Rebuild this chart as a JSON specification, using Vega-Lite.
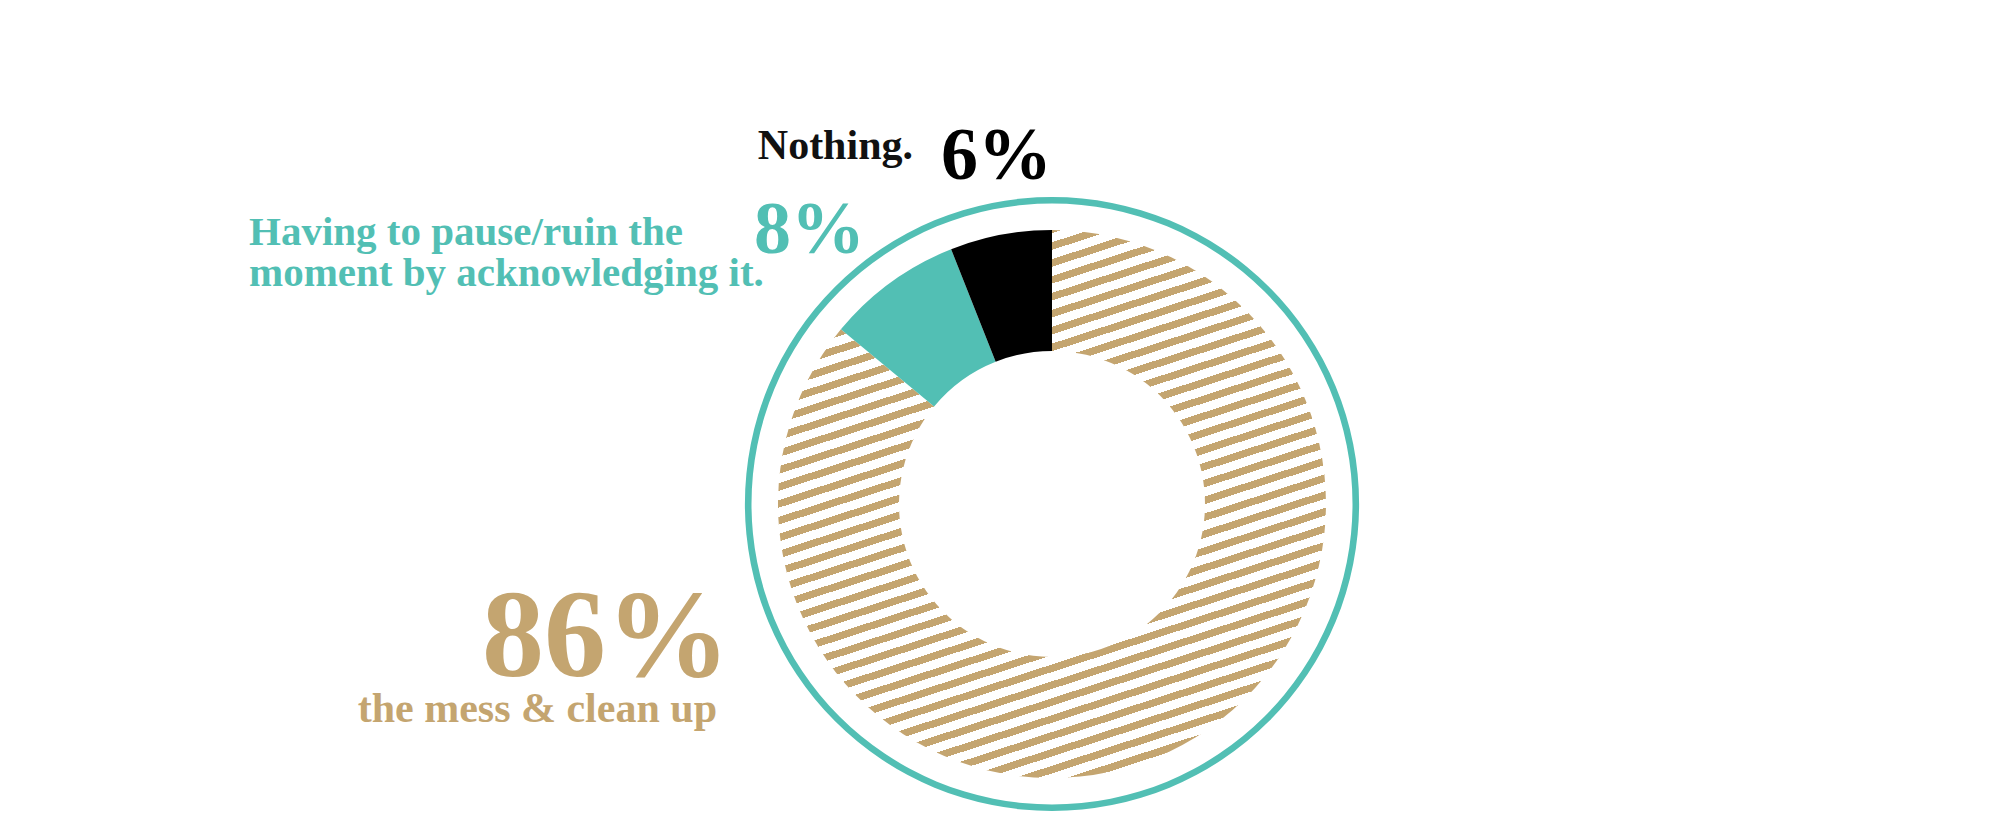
{
  "$schema": "https://vega.github.io/schema/vega-lite/v6.json",
  "autosize": {"type": "none"},
  "padding": {"left": 104, "top": 185, "right": 0, "bottom": 0},
  "width": 1896,
  "height": 638,
  "background": "#ffffff",
  "config": {"view": {"stroke": null}},
  "data": {
    "values": [
      {"label": "the mess & clean up", "value": 86, "pct": "86%"},
      {"label": "Having to pause/ruin the\nmoment by acknowledging it.", "value": 8, "pct": "8%"},
      {"label": "Nothing.", "value": 6, "pct": "6%"}
    ]
  },
  "layer": [
    {
      "data": {"values": [{"part": "border"}]},
      "mark": {"type": "arc", "radius": 307, "radius2": 300.5, "fill": "#52bfb4"},
      "encoding": {}
    },
    {
      "mark": {"type": "arc", "radius": 274, "radius2": 153},
      "encoding": {
        "theta": {"field": "value", "type": "quantitative", "stack": true},
        "order": {"field": "value", "type": "quantitative", "sort": "descending"},
        "fill": {
          "condition": {
            "test": "datum.value == 86",
            "value": {
              "gradient": "linear",
              "x1": 0.305, "y1": -0.099, "x2": 0.695, "y2": 1.099,
              "stops": [
                {"offset": 0, "color": "#c4a570"}, {"offset": 0.0105, "color": "#c4a570"}, {"offset": 0.0105, "color": "#ffffff"}, {"offset": 0.0233, "color": "#ffffff"},
                {"offset": 0.0233, "color": "#c4a570"}, {"offset": 0.0338, "color": "#c4a570"}, {"offset": 0.0338, "color": "#ffffff"}, {"offset": 0.0465, "color": "#ffffff"},
                {"offset": 0.0465, "color": "#c4a570"}, {"offset": 0.0570, "color": "#c4a570"}, {"offset": 0.0570, "color": "#ffffff"}, {"offset": 0.0698, "color": "#ffffff"},
                {"offset": 0.0698, "color": "#c4a570"}, {"offset": 0.0803, "color": "#c4a570"}, {"offset": 0.0803, "color": "#ffffff"}, {"offset": 0.0930, "color": "#ffffff"},
                {"offset": 0.0930, "color": "#c4a570"}, {"offset": 0.1035, "color": "#c4a570"}, {"offset": 0.1035, "color": "#ffffff"}, {"offset": 0.1163, "color": "#ffffff"},
                {"offset": 0.1163, "color": "#c4a570"}, {"offset": 0.1268, "color": "#c4a570"}, {"offset": 0.1268, "color": "#ffffff"}, {"offset": 0.1395, "color": "#ffffff"},
                {"offset": 0.1395, "color": "#c4a570"}, {"offset": 0.1500, "color": "#c4a570"}, {"offset": 0.1500, "color": "#ffffff"}, {"offset": 0.1628, "color": "#ffffff"},
                {"offset": 0.1628, "color": "#c4a570"}, {"offset": 0.1733, "color": "#c4a570"}, {"offset": 0.1733, "color": "#ffffff"}, {"offset": 0.1860, "color": "#ffffff"},
                {"offset": 0.1860, "color": "#c4a570"}, {"offset": 0.1965, "color": "#c4a570"}, {"offset": 0.1965, "color": "#ffffff"}, {"offset": 0.2093, "color": "#ffffff"},
                {"offset": 0.2093, "color": "#c4a570"}, {"offset": 0.2198, "color": "#c4a570"}, {"offset": 0.2198, "color": "#ffffff"}, {"offset": 0.2326, "color": "#ffffff"},
                {"offset": 0.2326, "color": "#c4a570"}, {"offset": 0.2431, "color": "#c4a570"}, {"offset": 0.2431, "color": "#ffffff"}, {"offset": 0.2558, "color": "#ffffff"},
                {"offset": 0.2558, "color": "#c4a570"}, {"offset": 0.2663, "color": "#c4a570"}, {"offset": 0.2663, "color": "#ffffff"}, {"offset": 0.2791, "color": "#ffffff"},
                {"offset": 0.2791, "color": "#c4a570"}, {"offset": 0.2896, "color": "#c4a570"}, {"offset": 0.2896, "color": "#ffffff"}, {"offset": 0.3023, "color": "#ffffff"},
                {"offset": 0.3023, "color": "#c4a570"}, {"offset": 0.3128, "color": "#c4a570"}, {"offset": 0.3128, "color": "#ffffff"}, {"offset": 0.3256, "color": "#ffffff"},
                {"offset": 0.3256, "color": "#c4a570"}, {"offset": 0.3361, "color": "#c4a570"}, {"offset": 0.3361, "color": "#ffffff"}, {"offset": 0.3488, "color": "#ffffff"},
                {"offset": 0.3488, "color": "#c4a570"}, {"offset": 0.3593, "color": "#c4a570"}, {"offset": 0.3593, "color": "#ffffff"}, {"offset": 0.3721, "color": "#ffffff"},
                {"offset": 0.3721, "color": "#c4a570"}, {"offset": 0.3826, "color": "#c4a570"}, {"offset": 0.3826, "color": "#ffffff"}, {"offset": 0.3953, "color": "#ffffff"},
                {"offset": 0.3953, "color": "#c4a570"}, {"offset": 0.4058, "color": "#c4a570"}, {"offset": 0.4058, "color": "#ffffff"}, {"offset": 0.4186, "color": "#ffffff"},
                {"offset": 0.4186, "color": "#c4a570"}, {"offset": 0.4291, "color": "#c4a570"}, {"offset": 0.4291, "color": "#ffffff"}, {"offset": 0.4419, "color": "#ffffff"},
                {"offset": 0.4419, "color": "#c4a570"}, {"offset": 0.4524, "color": "#c4a570"}, {"offset": 0.4524, "color": "#ffffff"}, {"offset": 0.4651, "color": "#ffffff"},
                {"offset": 0.4651, "color": "#c4a570"}, {"offset": 0.4756, "color": "#c4a570"}, {"offset": 0.4756, "color": "#ffffff"}, {"offset": 0.4884, "color": "#ffffff"},
                {"offset": 0.4884, "color": "#c4a570"}, {"offset": 0.4989, "color": "#c4a570"}, {"offset": 0.4989, "color": "#ffffff"}, {"offset": 0.5116, "color": "#ffffff"},
                {"offset": 0.5116, "color": "#c4a570"}, {"offset": 0.5221, "color": "#c4a570"}, {"offset": 0.5221, "color": "#ffffff"}, {"offset": 0.5349, "color": "#ffffff"},
                {"offset": 0.5349, "color": "#c4a570"}, {"offset": 0.5454, "color": "#c4a570"}, {"offset": 0.5454, "color": "#ffffff"}, {"offset": 0.5581, "color": "#ffffff"},
                {"offset": 0.5581, "color": "#c4a570"}, {"offset": 0.5686, "color": "#c4a570"}, {"offset": 0.5686, "color": "#ffffff"}, {"offset": 0.5814, "color": "#ffffff"},
                {"offset": 0.5814, "color": "#c4a570"}, {"offset": 0.5919, "color": "#c4a570"}, {"offset": 0.5919, "color": "#ffffff"}, {"offset": 0.6047, "color": "#ffffff"},
                {"offset": 0.6047, "color": "#c4a570"}, {"offset": 0.6152, "color": "#c4a570"}, {"offset": 0.6152, "color": "#ffffff"}, {"offset": 0.6279, "color": "#ffffff"},
                {"offset": 0.6279, "color": "#c4a570"}, {"offset": 0.6384, "color": "#c4a570"}, {"offset": 0.6384, "color": "#ffffff"}, {"offset": 0.6512, "color": "#ffffff"},
                {"offset": 0.6512, "color": "#c4a570"}, {"offset": 0.6617, "color": "#c4a570"}, {"offset": 0.6617, "color": "#ffffff"}, {"offset": 0.6744, "color": "#ffffff"},
                {"offset": 0.6744, "color": "#c4a570"}, {"offset": 0.6849, "color": "#c4a570"}, {"offset": 0.6849, "color": "#ffffff"}, {"offset": 0.6977, "color": "#ffffff"},
                {"offset": 0.6977, "color": "#c4a570"}, {"offset": 0.7082, "color": "#c4a570"}, {"offset": 0.7082, "color": "#ffffff"}, {"offset": 0.7209, "color": "#ffffff"},
                {"offset": 0.7209, "color": "#c4a570"}, {"offset": 0.7314, "color": "#c4a570"}, {"offset": 0.7314, "color": "#ffffff"}, {"offset": 0.7442, "color": "#ffffff"},
                {"offset": 0.7442, "color": "#c4a570"}, {"offset": 0.7547, "color": "#c4a570"}, {"offset": 0.7547, "color": "#ffffff"}, {"offset": 0.7674, "color": "#ffffff"},
                {"offset": 0.7674, "color": "#c4a570"}, {"offset": 0.7779, "color": "#c4a570"}, {"offset": 0.7779, "color": "#ffffff"}, {"offset": 0.7907, "color": "#ffffff"},
                {"offset": 0.7907, "color": "#c4a570"}, {"offset": 0.8012, "color": "#c4a570"}, {"offset": 0.8012, "color": "#ffffff"}, {"offset": 0.8140, "color": "#ffffff"},
                {"offset": 0.8140, "color": "#c4a570"}, {"offset": 0.8245, "color": "#c4a570"}, {"offset": 0.8245, "color": "#ffffff"}, {"offset": 0.8372, "color": "#ffffff"},
                {"offset": 0.8372, "color": "#c4a570"}, {"offset": 0.8477, "color": "#c4a570"}, {"offset": 0.8477, "color": "#ffffff"}, {"offset": 0.8605, "color": "#ffffff"},
                {"offset": 0.8605, "color": "#c4a570"}, {"offset": 0.8710, "color": "#c4a570"}, {"offset": 0.8710, "color": "#ffffff"}, {"offset": 0.8837, "color": "#ffffff"},
                {"offset": 0.8837, "color": "#c4a570"}, {"offset": 0.8942, "color": "#c4a570"}, {"offset": 0.8942, "color": "#ffffff"}, {"offset": 0.9070, "color": "#ffffff"},
                {"offset": 0.9070, "color": "#c4a570"}, {"offset": 0.9175, "color": "#c4a570"}, {"offset": 0.9175, "color": "#ffffff"}, {"offset": 0.9302, "color": "#ffffff"},
                {"offset": 0.9302, "color": "#c4a570"}, {"offset": 0.9407, "color": "#c4a570"}, {"offset": 0.9407, "color": "#ffffff"}, {"offset": 0.9535, "color": "#ffffff"},
                {"offset": 0.9535, "color": "#c4a570"}, {"offset": 0.9640, "color": "#c4a570"}, {"offset": 0.9640, "color": "#ffffff"}, {"offset": 0.9767, "color": "#ffffff"},
                {"offset": 0.9767, "color": "#c4a570"}, {"offset": 0.9872, "color": "#c4a570"}, {"offset": 0.9872, "color": "#ffffff"}, {"offset": 1, "color": "#ffffff"}
              ]
            }
          },
          "field": "label",
          "type": "nominal",
          "scale": {
            "domain": ["the mess & clean up", "Having to pause/ruin the\nmoment by acknowledging it.", "Nothing."],
            "range": ["#c4a570", "#52bfb4", "#000000"]
          },
          "legend": null
        }
      }
    },
    {
      "transform": [{"filter": "datum.value == 6"}],
      "mark": {"type": "text", "align": "right", "baseline": "alphabetic", "dx": -139, "dy": -345, "font": "Liberation Serif", "fontWeight": "bold", "fontSize": 42, "color": "#111111"},
      "encoding": {"text": {"field": "label"}}
    },
    {
      "transform": [{"filter": "datum.value == 6"}],
      "mark": {"type": "text", "align": "left", "baseline": "alphabetic", "dx": -111, "dy": -325, "font": "Liberation Serif", "fontWeight": "bold", "fontSize": 74, "color": "#000000"},
      "encoding": {"text": {"field": "pct"}}
    },
    {
      "transform": [{"filter": "datum.value == 8"}],
      "mark": {"type": "text", "align": "left", "baseline": "alphabetic", "dx": -803, "dy": -259, "font": "Liberation Serif", "fontWeight": "bold", "fontSize": 41, "lineHeight": 41, "lineBreak": "\n", "color": "#52bfb4"},
      "encoding": {"text": {"field": "label"}}
    },
    {
      "transform": [{"filter": "datum.value == 8"}],
      "mark": {"type": "text", "align": "left", "baseline": "alphabetic", "dx": -298, "dy": -251, "font": "Liberation Serif", "fontWeight": "bold", "fontSize": 74, "color": "#52bfb4"},
      "encoding": {"text": {"field": "pct"}}
    },
    {
      "transform": [{"filter": "datum.value == 86"}],
      "mark": {"type": "text", "align": "right", "baseline": "alphabetic", "dx": -322, "dy": 172, "font": "Liberation Serif", "fontWeight": "bold", "fontSize": 124, "color": "#c4a570"},
      "encoding": {"text": {"field": "pct"}}
    },
    {
      "transform": [{"filter": "datum.value == 86"}],
      "mark": {"type": "text", "align": "right", "baseline": "alphabetic", "dx": -335, "dy": 218, "font": "Liberation Serif", "fontWeight": "bold", "fontSize": 42, "color": "#c4a570"},
      "encoding": {"text": {"field": "label"}}
    }
  ]
}
